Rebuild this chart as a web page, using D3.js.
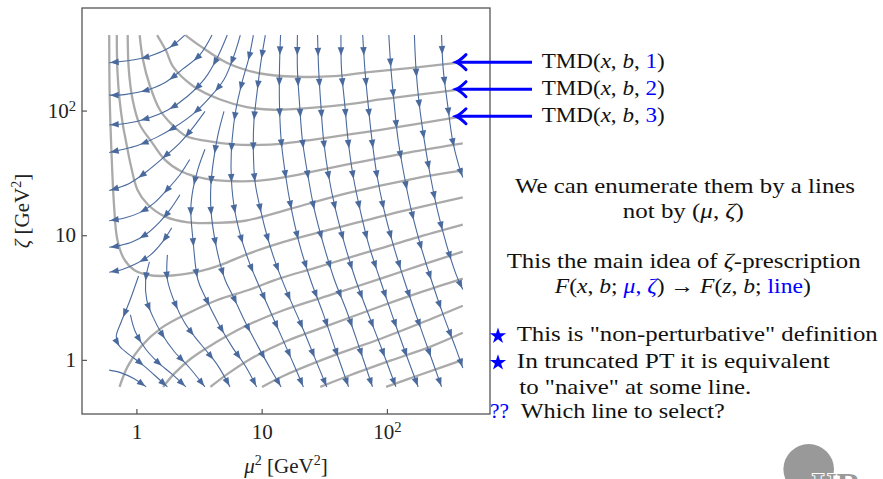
<!DOCTYPE html>
<html>
<head>
<meta charset="utf-8">
<script src="https://cdn.jsdelivr.net/npm/d3@7"></script>
<style>
  body { margin: 0; background: #fff; }
  text { font-family: "Liberation Serif", "DejaVu Serif", serif; white-space: pre; }
</style>
</head>
<body>
<svg id="chart" width="883" height="479"></svg>
<script>
// every curve point is [ln(mu^2), ln(zeta)]
const tickValues = [1, 10, 100];

// gray lines of constant TMD, the ones that come down from the top
const nullLinesTop = [
  [[0.9, 6.0], [1.17, 5.8], [1.66, 5.49], [2.28, 5.29], [2.96, 5.23], [3.63, 5.24], [4.31, 5.32], [5.11, 5.4], [6.0, 5.5]],
  [[0.38, 6.0], [0.55, 5.7], [0.67, 5.42], [1.04, 5.06], [1.54, 4.81], [2.03, 4.67], [2.52, 4.62], [3.26, 4.66], [3.88, 4.72], [4.49, 4.81], [5.11, 4.89], [6.0, 5.0]],
  [[0.06, 6.0], [0.12, 5.55], [0.24, 5.09], [0.43, 4.62], [0.65, 4.35], [0.92, 4.13], [1.26, 4.05], [1.78, 3.98], [2.27, 3.97], [2.65, 3.99], [3.26, 4.07], [3.88, 4.16], [4.49, 4.25], [5.11, 4.35], [6.0, 4.5]],
  [[-0.16, 6.0], [-0.14, 5.36], [-0.07, 4.81], [0.06, 4.35], [0.27, 4.04], [0.52, 3.7], [0.83, 3.48], [1.26, 3.35], [1.81, 3.3], [2.27, 3.31], [2.65, 3.36], [3.26, 3.48], [3.88, 3.61], [4.49, 3.73], [5.11, 3.85], [6.0, 4.0]],
  [[-0.36, 6.0], [-0.35, 5.36], [-0.31, 4.81], [-0.25, 4.35], [-0.19, 4.03], [-0.1, 3.58], [0.02, 3.14], [0.21, 2.87], [0.52, 2.65], [0.95, 2.54], [1.44, 2.53], [2.0, 2.57], [2.83, 2.79], [3.88, 3.08], [5.11, 3.35], [6.0, 3.5]],
  [[-0.5, 6.0], [-0.49, 4.81], [-0.46, 3.88], [-0.41, 2.84], [-0.35, 2.22], [-0.22, 1.85], [-0.04, 1.66], [0.21, 1.57], [0.52, 1.55], [1.13, 1.63], [1.57, 1.76], [2.0, 1.94], [2.65, 2.16], [3.57, 2.41], [4.62, 2.68], [6.0, 3.0]]
];

// gray lines that start at the bottom edge
const nullLinesBottom = [
  [[-0.31, -0.5], [-0.16, -0.12], [0.09, 0.25], [0.46, 0.59], [0.95, 0.86], [1.5, 1.11], [2.06, 1.29], [2.65, 1.51], [3.26, 1.69], [3.88, 1.88], [4.49, 2.06], [5.11, 2.25], [6.0, 2.5]],
  [[0.49, -0.5], [0.7, -0.25], [1.01, 0.03], [1.44, 0.31], [2.0, 0.62], [2.74, 0.93], [3.57, 1.2], [4.49, 1.5], [5.23, 1.75], [6.0, 2.0]],
  [[1.36, -0.5], [1.69, -0.25], [2.12, 0.03], [2.74, 0.34], [3.57, 0.65], [4.49, 0.99], [5.23, 1.25], [6.0, 1.5]],
  [[2.31, -0.5], [2.74, -0.28], [3.57, 0.06], [4.49, 0.39], [5.23, 0.68], [6.0, 1.0]],
  [[3.38, -0.5], [3.94, -0.28], [4.68, -0.01], [5.42, 0.25], [6.0, 0.5]],
  [[4.59, -0.5], [5.23, -0.27], [6.0, 0.0]]
];

// streamlines that bend to the left edge
const fanStreams = [
  [[0.89, 6.0], [0.61, 5.77], [0.24, 5.61], [-0.13, 5.53], [-0.5, 5.49]],
  [[1.39, 6.0], [1.17, 5.64], [0.85, 5.37], [0.52, 5.12], [0.15, 4.97], [-0.22, 4.9], [-0.5, 4.89]],
  [[1.67, 6.0], [1.5, 5.61], [1.26, 5.2], [0.94, 4.87], [0.57, 4.61], [0.2, 4.46], [-0.17, 4.37], [-0.5, 4.34]],
  [[1.91, 6.0], [1.79, 5.61], [1.61, 5.18], [1.35, 4.85], [1.05, 4.55], [0.72, 4.31], [0.37, 4.11], [0.02, 3.96], [-0.28, 3.88], [-0.5, 3.83]],
  [[1.26, 4.59], [1.04, 4.29], [0.8, 4.01], [0.5, 3.74], [0.19, 3.48], [-0.13, 3.26], [-0.5, 3.13]],
  [[0.98, 3.7], [0.8, 3.42], [0.57, 3.15], [0.33, 2.9], [0.06, 2.72], [-0.22, 2.62], [-0.5, 2.57]],
  [[0.8, 3.05], [0.63, 2.79], [0.43, 2.55], [0.19, 2.33], [-0.07, 2.18], [-0.31, 2.11], [-0.5, 2.08]],
  [[0.65, 2.44], [0.48, 2.18], [0.26, 1.94], [0.0, 1.78], [-0.26, 1.67], [-0.5, 1.62]]
];

// streamlines around the saddle, bottom left
const lowStreams = [
  [[-0.5, -0.19], [-0.28, -0.24], [-0.04, -0.35], [0.18, -0.5]],
  [[0.04, 1.55], [-0.13, 1.07], [-0.28, 0.7], [-0.37, 0.44], [-0.33, 0.28], [-0.15, 0.11], [0.09, -0.07], [0.33, -0.28], [0.57, -0.5]],
  [[-0.11, 0.83], [-0.02, 0.52], [0.17, 0.2], [0.39, -0.04], [0.65, -0.26], [0.91, -0.5]],
  [[0.24, 1.81], [0.17, 1.48], [0.19, 1.11], [0.31, 0.78], [0.48, 0.46], [0.7, 0.15], [0.98, -0.15], [1.26, -0.5]],
  [[0.57, 1.94], [0.57, 1.48], [0.72, 1.02], [0.89, 0.68], [1.07, 0.43], [1.3, 0.15], [1.5, -0.11], [1.72, -0.5]],
  [[1.26, 3.89], [1.13, 3.52], [1.04, 3.15], [1.0, 2.78], [1.04, 2.22], [1.13, 1.48], [1.26, 1.17], [1.52, 0.65], [1.76, 0.24], [2.0, -0.11], [2.21, -0.5]],
  [[1.61, 4.59], [1.5, 4.16], [1.42, 3.7], [1.37, 3.24], [1.37, 2.78], [1.46, 2.13], [1.63, 1.48], [1.78, 1.17], [1.98, 0.74], [2.24, 0.24], [2.48, -0.19], [2.66, -0.5]]
];

// near-vertical streamlines from the top edge
const columnStreams = [
  [[2.15, 6.0], [2.07, 5.59], [1.94, 5.12], [1.83, 4.63], [1.76, 4.07], [1.74, 3.52], [1.79, 2.87], [1.91, 2.31], [2.09, 1.76], [2.31, 1.24], [2.57, 0.65], [2.83, 0.06], [3.07, -0.5]],
  [[2.37, 6.0], [2.29, 5.51], [2.22, 4.96], [2.16, 4.4], [2.15, 3.85], [2.18, 3.29], [2.28, 2.78], [2.41, 2.26], [2.57, 1.76], [2.79, 1.2], [3.03, 0.65], [3.27, 0.06], [3.5, -0.5]],
  [[2.65, 6.0], [2.63, 5.37], [2.63, 4.72], [2.66, 4.07], [2.74, 3.42], [2.85, 2.78], [3.0, 2.13], [3.2, 1.48], [3.42, 0.89], [3.66, 0.19], [3.9, -0.5]],
  [[2.96, 6.0], [2.96, 5.37], [3.0, 4.72], [3.05, 4.07], [3.15, 3.42], [3.27, 2.78], [3.44, 2.13], [3.64, 1.48], [3.87, 0.89], [4.11, 0.19], [4.34, -0.5]],
  [[3.33, 6.0], [3.35, 5.37], [3.39, 4.72], [3.44, 4.07], [3.53, 3.42], [3.66, 2.78], [3.83, 2.13], [4.03, 1.48], [4.27, 0.83], [4.53, 0.15], [4.77, -0.5]],
  [[3.76, 6.0], [3.77, 5.37], [3.83, 4.72], [3.89, 4.07], [3.98, 3.42], [4.11, 2.78], [4.27, 2.13], [4.48, 1.48], [4.7, 0.83], [4.94, 0.15], [5.18, -0.5]],
  [[4.16, 6.0], [4.2, 5.37], [4.26, 4.72], [4.33, 4.07], [4.42, 3.42], [4.55, 2.78], [4.72, 2.13], [4.92, 1.48], [5.14, 0.83], [5.38, 0.15], [5.61, -0.5]],
  [[4.64, 6.0], [4.68, 5.37], [4.74, 4.72], [4.81, 4.07], [4.92, 3.42], [5.05, 2.78], [5.22, 2.13], [5.42, 1.48], [5.64, 0.83], [5.88, 0.19], [6.0, -0.15]],
  [[5.11, 6.0], [5.14, 5.37], [5.2, 4.72], [5.29, 4.07], [5.4, 3.42], [5.53, 2.78], [5.7, 2.13], [5.88, 1.57], [6.0, 1.3]],
  [[5.61, 6.0], [5.64, 5.37], [5.72, 4.72], [5.81, 4.07], [5.92, 3.61], [6.0, 3.37]]
];

const tmdLabels = ["1", "2", "3"];

const svg = d3.select("#chart");
const blue = "#0000ff";
const streamColor = "#4a6a9e";
const frame = { left: 82, right: 490, top: 8, bottom: 414 };

const x = d3.scaleLog().domain([Math.exp(-1), Math.exp(6.5)]).range([frame.left, frame.right]);
const y = d3.scaleLog().domain([Math.exp(-1), Math.exp(6.5)]).range([frame.bottom, frame.top]);

const curve = d3.line()
  .x((d) => x(Math.exp(d[0])))
  .y((d) => y(Math.exp(d[1])))
  .curve(d3.curveCatmullRom.alpha(0.5));

// frame
svg.append("rect")
  .attr("x", frame.left).attr("y", frame.top)
  .attr("width", frame.right - frame.left).attr("height", frame.bottom - frame.top)
  .attr("fill", "none").attr("stroke", "#555").attr("stroke-width", 1.3);

// gray lines
const grayG = svg.append("g");
grayG.selectAll("path")
  .data(nullLinesTop.concat(nullLinesBottom))
  .enter().append("path")
  .attr("d", curve)
  .attr("fill", "none")
  .attr("stroke", "#aaaaaa")
  .attr("stroke-width", 2.3);

// streamlines with arrowheads
const streamG = svg.append("g");
streamG.selectAll("path.stream")
  .data(fanStreams.concat(lowStreams, columnStreams))
  .enter().append("path")
  .attr("class", "stream")
  .attr("d", curve)
  .attr("fill", "none")
  .attr("stroke", streamColor)
  .attr("stroke-width", 1.1);

streamG.selectAll("path.stream").each(function () {
  const len = this.getTotalLength();
  for (let s = len - 1; s > 14; s -= 31) {
    const p = this.getPointAtLength(s);
    const q = this.getPointAtLength(Math.max(0, s - 4));
    const a = (Math.atan2(p.y - q.y, p.x - q.x) * 180) / Math.PI;
    streamG.append("path")
      .attr("d", "M0,0L-8.5,-3.3L-8.5,3.3Z")
      .attr("transform", `translate(${p.x},${p.y}) rotate(${a})`)
      .attr("fill", streamColor);
  }
});

// axes
function tickLabels(g) {
  g.selectAll(".tick text").each(function (d) {
    const t = d3.select(this).text(null);
    const e = Math.round(Math.log10(d));
    if (e < 2) {
      t.text(String(d));
    } else {
      t.append("tspan").text("10");
      t.append("tspan").attr("dy", "-0.45em").attr("font-size", "0.7em").text(e);
    }
  });
}

const xAxis = d3.axisBottom(x).tickValues(tickValues).tickSizeInner(-5).tickSizeOuter(0).tickPadding(10).tickFormat("");
const yAxis = d3.axisLeft(y).tickValues(tickValues).tickSizeInner(-5).tickSizeOuter(0).tickPadding(6).tickFormat("");

const gx = svg.append("g")
  .attr("transform", `translate(0,${frame.bottom})`)
  .call(xAxis);
const gy = svg.append("g")
  .attr("transform", `translate(${frame.left},0)`)
  .call(yAxis);

[gx, gy].forEach((g) => {
  g.select(".domain").remove();
  g.attr("font-family", null).attr("font-size", 21);
  g.selectAll(".tick line").attr("stroke", "#555").attr("stroke-width", 1.2);
  g.selectAll(".tick text").attr("fill", "#222");
  tickLabels(g);
});

// axis titles
const xTitle = svg.append("text")
  .attr("x", 286).attr("y", 473)
  .attr("text-anchor", "middle").attr("font-size", 21).attr("fill", "#222");
xTitle.append("tspan").attr("font-style", "italic").text("μ");
xTitle.append("tspan").attr("dy", -8).attr("font-size", 14).text("2");
xTitle.append("tspan").attr("dy", 8).text(" [GeV");
xTitle.append("tspan").attr("dy", -8).attr("font-size", 14).text("2");
xTitle.append("tspan").attr("dy", 8).text("]");

const yTitle = svg.append("text")
  .attr("transform", "translate(29,211) rotate(-90)")
  .attr("text-anchor", "middle").attr("font-size", 21).attr("fill", "#222");
yTitle.append("tspan").attr("font-style", "italic").text("ζ");
yTitle.append("tspan").text(" [GeV");
yTitle.append("tspan").attr("dy", -8).attr("font-size", 14).text("2");
yTitle.append("tspan").attr("dy", 8).text("]");

// rich text helper: parts are [string, flags], flags "i" italic, "b" blue
function richText(px, py, parts, opts) {
  const t = svg.append("text")
    .attr("x", px).attr("y", py)
    .attr("font-size", opts.size || 21)
    .attr("fill", "#111")
    .attr("text-anchor", opts.anchor || "start");
  if (opts.width) t.attr("textLength", opts.width).attr("lengthAdjust", "spacingAndGlyphs");
  parts.forEach((p) => {
    const s = t.append("tspan").text(p[0]);
    const f = p[1] || "";
    if (f.includes("i")) s.attr("font-style", "italic");
    if (f.includes("b")) s.attr("fill", blue);
  });
  return t;
}

// blue arrows pointing at the labelled lines
nullLinesTop.slice(0, 3).forEach((ln, i) => {
  const end = ln[ln.length - 1];
  const yy = y(Math.exp(end[1]));
  svg.append("line")
    .attr("x1", 458).attr("x2", 532).attr("y1", yy).attr("y2", yy)
    .attr("stroke", blue).attr("stroke-width", 3);
  svg.append("path")
    .attr("d", `M466,${yy - 7.5}Q460,${yy - 1.5} 456,${yy}Q460,${yy + 1.5} 466,${yy + 7.5}`)
    .attr("fill", "none").attr("stroke", blue).attr("stroke-width", 3)
    .attr("stroke-linecap", "round");
  richText(541.7, yy + 6, [["TMD("], ["x", "i"], [", "], ["b", "i"], [", "], [tmdLabels[i], "b"], [")"]], { width: 123 });
});

richText(685, 193, [["We can enumerate them by a lines"]], { anchor: "middle", width: 340 });
richText(683.3, 218, [["not by ("], ["μ", "i"], [", "], ["ζ", "i"], [")"]], { anchor: "middle", width: 121 });
richText(683.7, 268, [["This the main idea of "], ["ζ", "i"], ["-prescription"]], { anchor: "middle", width: 354 });
richText(682.8, 293, [["F", "i"], ["("], ["x", "i"], [", "], ["b", "i"], ["; "], ["μ", "ib"], [", ", "b"], ["ζ", "ib"], [") → "], ["F", "i"], ["("], ["z", "i"], [", "], ["b", "i"], ["; "], ["line", "b"], [")"]], { anchor: "middle", width: 256 });

// bullet list
const star = d3.symbol().type(d3.symbolStar).size(82);
[335, 361.7].forEach((cy) => {
  svg.append("path").attr("d", star).attr("transform", `translate(498,${cy + 1})`).attr("fill", blue);
});
richText(516.7, 341, [['This is "non-perturbative" definition']], { width: 361 });
richText(516.7, 368, [["In truncated PT it is equivalent"]], { width: 313 });
richText(519.3, 394, [['to "naive" at some line.']], { width: 232 });
richText(490, 418, [["??", "b"]], { width: 19 });
richText(520.7, 418, [["Which line to select?"]], { width: 204 });

// logo in the corner
svg.append("circle").attr("cx", 808.7).attr("cy", 469.3).attr("r", 25.3).attr("fill", "#999");
svg.append("text")
  .attr("x", 812).attr("y", 496)
  .attr("font-family", "Liberation Sans, Arial, sans-serif")
  .attr("font-weight", "bold").attr("font-size", 34)
  .attr("fill", "#999").attr("stroke", "#fff").attr("stroke-width", 2)
  .attr("paint-order", "stroke")
  .text("UR");
</script>
</body>
</html>
